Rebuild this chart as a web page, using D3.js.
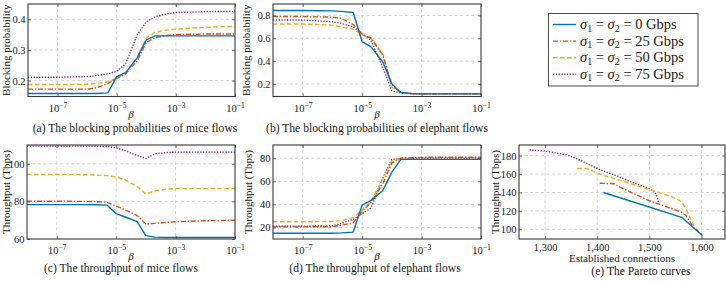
<!DOCTYPE html>
<html>
<head>
<meta charset="utf-8">
<script src="https://cdn.jsdelivr.net/npm/d3@7"></script>
<style>
  body { margin: 0; background: #fff; }
  svg { display: block; }
  svg text { font-family: "Liberation Serif", "DejaVu Serif", serif !important; fill: #1a1a1a; }
</style>
</head>
<body>
<svg id="chart" width="726" height="282" font-family="Liberation Serif, serif"></svg>
<script>
// beta values shared by panels (a) to (d)
var betas = [1e-8, 1e-7, 1e-6, 2e-6, 5e-6, 1e-5, 2e-5, 5e-5, 1e-4, 2e-4, 5e-4, 1e-3, 1e-2, 1e-1];
var betaTicks = [1e-7, 1e-5, 1e-3, 1e-1];

// sigma values of the four series (Gbps)
var sigmas = ["0", "25", "50", "75"];

// (a) blocking probability of mice flows, one row per sigma
var miceBlocking = [
  [0.158, 0.158, 0.158, 0.158, 0.160, 0.213, 0.226, 0.275, 0.333, 0.346, 0.346, 0.346, 0.346, 0.346],
  [0.172, 0.172, 0.172, 0.176, 0.190, 0.207, 0.222, 0.265, 0.325, 0.340, 0.347, 0.350, 0.352, 0.352],
  [0.187, 0.187, 0.188, 0.190, 0.196, 0.208, 0.225, 0.275, 0.340, 0.358, 0.365, 0.368, 0.374, 0.377],
  [0.211, 0.211, 0.213, 0.216, 0.222, 0.230, 0.255, 0.350, 0.392, 0.408, 0.418, 0.422, 0.425, 0.426]
];
var miceBlockingTicks = [0.2, 0.3, 0.4];

// (b) blocking probability of elephant flows
var elephantBlocking = [
  [0.843, 0.843, 0.840, 0.835, 0.826, 0.570, 0.525, 0.390, 0.200, 0.125, 0.115, 0.113, 0.113, 0.113],
  [0.790, 0.790, 0.785, 0.775, 0.720, 0.635, 0.600, 0.450, 0.190, 0.125, 0.115, 0.113, 0.113, 0.113],
  [0.725, 0.725, 0.715, 0.700, 0.680, 0.630, 0.600, 0.460, 0.170, 0.125, 0.115, 0.113, 0.113, 0.113],
  [0.760, 0.760, 0.745, 0.730, 0.700, 0.640, 0.580, 0.340, 0.140, 0.120, 0.114, 0.113, 0.113, 0.113]
];
var elephantBlockingTicks = [0.2, 0.4, 0.6, 0.8];

// (c) throughput of mice flows (Tbps)
var miceThroughput = [
  [78.3, 78.3, 78.3, 78.2, 78.0, 73.5, 71.7, 69.4, 61.8, 61.0, 60.8, 60.8, 60.8, 60.8],
  [80.1, 80.1, 80.0, 79.9, 79.5, 77.5, 75.5, 72.5, 68.0, 68.3, 68.8, 69.2, 69.7, 70.0],
  [94.3, 94.3, 94.2, 94.0, 93.7, 93.0, 91.5, 88.0, 84.0, 85.5, 86.5, 86.8, 86.8, 86.8],
  [109.4, 109.4, 109.4, 109.3, 109.2, 108.5, 107.0, 104.5, 102.8, 105.3, 106.0, 106.2, 106.2, 106.2]
];
var miceThroughputTicks = [60, 80, 100];

// (d) throughput of elephant flows (Tbps)
var elephantThroughput = [
  [15.0, 15.0, 15.0, 15.3, 16.0, 39.4, 43.5, 52.0, 68.0, 79.0, 79.0, 79.0, 79.0, 79.0],
  [20.5, 20.5, 20.7, 22.0, 24.0, 33.6, 42.0, 58.0, 76.0, 80.0, 80.5, 80.8, 80.9, 80.9],
  [24.9, 24.9, 25.2, 26.0, 28.5, 35.0, 43.0, 62.0, 78.0, 80.0, 80.3, 80.5, 80.5, 80.5],
  [21.0, 21.0, 21.5, 23.5, 27.0, 32.0, 37.0, 63.0, 79.0, 79.8, 80.0, 80.0, 80.0, 80.0]
];
var elephantThroughputTicks = [20, 40, 60, 80];

// (e) Pareto curves: [established connections, throughput (Tbps)]
var pareto0 = [[1412, 140], [1562, 113], [1602, 93]];
var pareto25 = [[1405, 150], [1432, 149.5], [1450, 144], [1500, 131], [1560, 119], [1570, 115], [1585, 102], [1600, 94]];
var pareto50 = [[1362, 166], [1380, 166], [1405, 160], [1450, 152], [1512, 141], [1540, 136], [1562, 130], [1572, 120], [1585, 104], [1595, 97]];
var pareto75 = [[1270, 186], [1300, 185], [1340, 181], [1360, 177], [1400, 166], [1450, 155], [1500, 144], [1510, 141], [1515, 135], [1518, 128]];
var paretoXTicks = [1300, 1400, 1500, 1600];
var paretoYTicks = [100, 120, 140, 160, 180];

var
  svg = d3.select("#chart"),

  COLORS = ["#0072bd", "#d95319", "#edb120", "#7e2f8e"],
  DASHES = [null, "5,1.8,1.4,1.8", "4.5,2.5", "1.3,1.5"],
  LINE_WIDTH = 1.4,

  FRAME_COLOR = "#3a3a3a",
  GRID_COLOR = "#c4c4c4",
  TICK_FONT = 10.5,
  LABEL_FONT = 11,
  CAPTION_FONT = 11.6,
  TICK_LENGTH = 3;

function superscriptLabel(text, d){
  var exp = Math.round(Math.log10(d));
  text.text("10");
  text.append("tspan")
    .attr("dy", "-0.5em")
    .attr("font-size", "0.72em")
    .text(String(exp).replace("-", "\u2212"));
}

function drawPanel(p){
  var
    g = svg.append("g"),
    x = (p.logX ? d3.scaleLog() : d3.scaleLinear()).domain(p.xDomain).range([p.left, p.right]),
    y = d3.scaleLinear().domain(p.yDomain).range([p.bottom, p.top]),
    xGrid = p.xTicks.filter(function(d){ return x(d) > p.left + 1 && x(d) < p.right - 1; }),
    yGrid = p.yTicks.filter(function(d){ return y(d) > p.top + 1 && y(d) < p.bottom - 1; });

  // dashed grid
  g.append("g").selectAll("line").data(xGrid).join("line")
    .attr("x1", x).attr("x2", x).attr("y1", p.top).attr("y2", p.bottom);
  g.append("g").selectAll("line").data(yGrid).join("line")
    .attr("y1", y).attr("y2", y).attr("x1", p.left).attr("x2", p.right);
  g.selectAll("g line")
    .attr("stroke", GRID_COLOR).attr("stroke-width", 0.7).attr("stroke-dasharray", "3,2.5");

  // data lines
  var clipId = "clip-" + p.id;
  g.append("clipPath").attr("id", clipId).append("rect")
    .attr("x", p.left).attr("y", p.top)
    .attr("width", p.right - p.left).attr("height", p.bottom - p.top);
  var lines = g.append("g").attr("clip-path", "url(#" + clipId + ")");
  var line = d3.line()
    .x(function(d){ return x(d[0]); })
    .y(function(d){ return y(d[1]); });
  // draw from the last series to the first so the solid one is on top
  for (var i = p.series.length - 1; i >= 0; i--){
    lines.append("path")
      .attr("d", line(p.series[i]))
      .attr("fill", "none")
      .attr("stroke", COLORS[i])
      .attr("stroke-width", LINE_WIDTH)
      .attr("stroke-linejoin", "round")
      .attr("stroke-dasharray", DASHES[i]);
  }

  // axes with inward ticks on all four sides
  var bottom = g.append("g").attr("transform", "translate(0," + p.bottom + ")")
    .call(d3.axisBottom(x).tickValues(p.xTicks).tickSizeInner(-TICK_LENGTH).tickSizeOuter(0)
      .tickFormat(p.logX ? "" : d3.format(",")));
  g.append("g").attr("transform", "translate(0," + p.top + ")")
    .call(d3.axisTop(x).tickValues(p.xTicks).tickSizeInner(-TICK_LENGTH).tickSizeOuter(0).tickFormat(""));
  var left = g.append("g").attr("transform", "translate(" + p.left + ",0)")
    .call(d3.axisLeft(y).tickValues(p.yTicks).tickSizeInner(-TICK_LENGTH).tickSizeOuter(0)
      .tickFormat(d3.format(p.yFormat)));
  g.append("g").attr("transform", "translate(" + p.right + ",0)")
    .call(d3.axisRight(y).tickValues(p.yTicks).tickSizeInner(-TICK_LENGTH).tickSizeOuter(0).tickFormat(""));

  g.selectAll(".domain").remove();
  g.selectAll("g[font-family]").attr("font-family", null);
  g.selectAll(".tick line").attr("stroke", FRAME_COLOR).attr("stroke-width", 0.7);
  g.selectAll(".tick text").attr("font-size", TICK_FONT).attr("fill", "#1a1a1a");

  bottom.selectAll(".tick text").attr("y", p.xTickY).attr("dy", null);
  if (p.logX){
    bottom.selectAll(".tick text").each(function(d){ superscriptLabel(d3.select(this), d); });
  }
  left.selectAll(".tick text").attr("x", -2.5).attr("dy", "0.33em");

  g.append("rect")
    .attr("x", p.left).attr("y", p.top)
    .attr("width", p.right - p.left).attr("height", p.bottom - p.top)
    .attr("fill", "none").attr("stroke", FRAME_COLOR).attr("stroke-width", 1.1);

  // axis labels and caption
  g.append("text")
    .attr("transform", "translate(" + p.yLabelX + "," + (p.top + p.bottom) / 2 + ") rotate(-90)")
    .attr("text-anchor", "middle")
    .attr("font-size", LABEL_FONT)
    .text(p.yLabel);

  var xl = g.append("text")
    .attr("x", p.xLabelX || (p.left + p.right) / 2)
    .attr("y", p.bottom + p.xLabelDy)
    .attr("text-anchor", "middle")
    .attr("font-size", LABEL_FONT)
    .text(p.xLabel);
  if (p.logX) xl.attr("font-style", "italic");

  g.append("text")
    .attr("x", p.captionX)
    .attr("y", p.captionY)
    .attr("text-anchor", "middle")
    .attr("font-size", CAPTION_FONT)
    .text(p.caption);
}

function betaSeries(rows){
  return rows.map(function(row){
    return row.map(function(v, i){ return [betas[i], v]; });
  });
}

drawPanel({
  id: "a", logX: true, left: 28, right: 235, top: 4, bottom: 96.5,
  xDomain: [1e-8, 1e-1], yDomain: [0.148, 0.45],
  xTicks: betaTicks, yTicks: miceBlockingTicks, yFormat: ".1f",
  series: betaSeries(miceBlocking),
  xTickY: 15, xLabel: "\u03b2", xLabelX: 131, xLabelDy: 21.5,
  yLabel: "Blocking probability", yLabelX: 9.5,
  caption: "(a) The blocking probabilities of mice flows", captionX: 135, captionY: 131.5
});

drawPanel({
  id: "b", logX: true, left: 273, right: 481, top: 4, bottom: 96.5,
  xDomain: [1e-8, 1e-1], yDomain: [0.09, 0.9],
  xTicks: betaTicks, yTicks: elephantBlockingTicks, yFormat: ".1f",
  series: betaSeries(elephantBlocking),
  xTickY: 15, xLabel: "\u03b2", xLabelX: 377, xLabelDy: 21.5,
  yLabel: "Blocking probability", yLabelX: 250,
  caption: "(b) The blocking probabilities of elephant flows", captionX: 377, captionY: 131.5
});

drawPanel({
  id: "c", logX: true, left: 27, right: 235, top: 145, bottom: 239,
  xDomain: [1e-8, 1e-1], yDomain: [60, 110],
  xTicks: betaTicks, yTicks: miceThroughputTicks, yFormat: "d",
  series: betaSeries(miceThroughput),
  xTickY: 14.5, xLabel: "\u03b2", xLabelX: 131, xLabelDy: 20.5,
  yLabel: "Throughput (Tbps)", yLabelX: 9.5,
  caption: "(c) The throughput of mice flows", captionX: 121, captionY: 272
});

drawPanel({
  id: "d", logX: true, left: 273, right: 481, top: 145, bottom: 239,
  xDomain: [1e-8, 1e-1], yDomain: [10, 91.5],
  xTicks: betaTicks, yTicks: elephantThroughputTicks, yFormat: "d",
  series: betaSeries(elephantThroughput),
  xTickY: 14.5, xLabel: "\u03b2", xLabelX: 377, xLabelDy: 20.5,
  yLabel: "Throughput (Tbps)", yLabelX: 251.5,
  caption: "(d) The throughput of elephant flows", captionX: 375, captionY: 272
});

drawPanel({
  id: "e", logX: false, left: 519, right: 725, top: 145, bottom: 239,
  xDomain: [1250, 1645], yDomain: [89.5, 191.5],
  xTicks: paretoXTicks, yTicks: paretoYTicks, yFormat: "d",
  series: [pareto0, pareto25, pareto50, pareto75],
  xTickY: 11.5, xLabel: "Established connections", xLabelDy: 22.5,
  yLabel: "Throughput (Tbps)", yLabelX: 498.5,
  caption: "(e) The Pareto curves", captionX: 641, captionY: 274.5
});

// legend
var legend = svg.append("g");
legend.append("rect")
  .attr("x", 548.5).attr("y", 13.5).attr("width", 149.5).attr("height", 72.5)
  .attr("fill", "#fff").attr("stroke", FRAME_COLOR).attr("stroke-width", 0.9);
sigmas.forEach(function(s, i){
  var cy = 24.5 + i * 16.6;
  legend.append("line")
    .attr("x1", 553).attr("x2", 576).attr("y1", cy).attr("y2", cy)
    .attr("stroke", COLORS[i]).attr("stroke-width", LINE_WIDTH)
    .attr("stroke-dasharray", DASHES[i]);
  var t = legend.append("text").attr("x", 580).attr("y", cy + 4.5).attr("font-size", 14.5);
  t.append("tspan").attr("font-style", "italic").text("\u03c3");
  t.append("tspan").attr("font-size", 10).attr("dy", 2.5).text("1");
  t.append("tspan").attr("dy", -2.5).text(" = ");
  t.append("tspan").attr("font-style", "italic").text("\u03c3");
  t.append("tspan").attr("font-size", 10).attr("dy", 2.5).text("2");
  t.append("tspan").attr("dy", -2.5).text(" = " + s + " Gbps");
});
</script>
</body>
</html>
